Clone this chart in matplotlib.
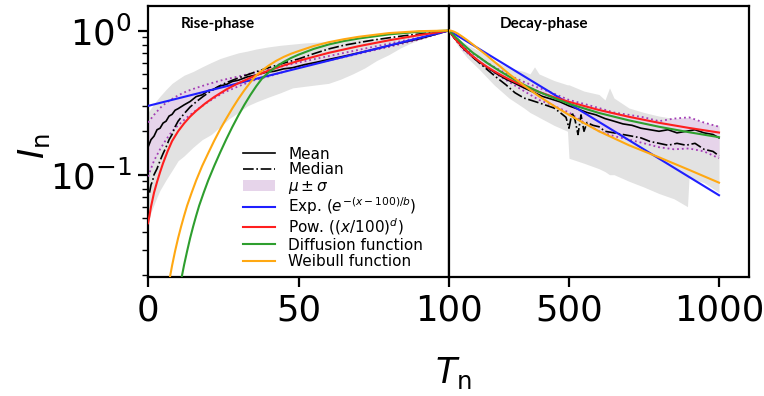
import matplotlib
matplotlib.use('Agg')
import matplotlib.pyplot as plt
import matplotlib.ticker as mticker
from matplotlib.patches import Rectangle
from matplotlib.lines import Line2D

# ---------------- Rise phase (T_n 0..100) ----------------
rise_mean_x = [0, 1, 2, 3, 4, 5, 6, 7, 8, 9, 10, 12, 14, 16, 18, 20, 22, 24, 26, 28, 30,
               33, 36, 39, 42, 45, 48, 52, 56, 60, 65, 70, 75, 80, 85, 90, 95, 100]
rise_mean = [0.155, 0.175, 0.185, 0.205, 0.21, 0.228, 0.235, 0.255, 0.262, 0.28, 0.287, 0.305,
             0.322, 0.348, 0.358, 0.383, 0.392, 0.413, 0.422, 0.443, 0.452, 0.477, 0.492, 0.512,
             0.522, 0.542, 0.552, 0.58, 0.603, 0.63, 0.663, 0.70, 0.74, 0.785, 0.83, 0.875, 0.935, 1.0]

rise_median_x = [0.5, 1, 1.5, 2, 3, 4, 5, 6, 7, 8, 9, 10, 12, 14, 16, 18, 20, 23, 26, 29, 32,
                 35, 38, 41, 44, 47, 50, 55, 60, 65, 70, 75, 80, 85, 90, 95, 100]
rise_median = [0.075, 0.085, 0.09, 0.10, 0.11, 0.125, 0.14, 0.155, 0.175, 0.19, 0.215, 0.235,
               0.265, 0.295, 0.32, 0.345, 0.37, 0.405, 0.435, 0.46, 0.485, 0.51, 0.535, 0.56,
               0.585, 0.61, 0.635, 0.69, 0.745, 0.79, 0.825, 0.86, 0.89, 0.92, 0.945, 0.97, 1.0]

rise_sig_x = [0, 2, 4, 6, 8, 10, 13, 16, 20, 25, 30, 35, 40, 50, 60, 70, 80, 90, 100]
rise_sig_hi = [0.23, 0.26, 0.29, 0.315, 0.335, 0.355, 0.38, 0.40, 0.425, 0.455, 0.48, 0.51,
               0.535, 0.60, 0.665, 0.735, 0.81, 0.895, 1.0]
rise_sig_lo = [0.097, 0.125, 0.15, 0.175, 0.20, 0.22, 0.25, 0.28, 0.32, 0.37, 0.41, 0.45,
               0.48, 0.555, 0.62, 0.69, 0.77, 0.865, 1.0]

rise_rng_x = [0, 1, 2, 3, 4, 6, 8, 10, 12, 15, 18, 21, 24, 27, 30, 33, 36, 40, 44, 48, 52,
              56, 60, 64, 68, 72, 76, 80, 84, 88, 92, 96, 100]
rise_rng_hi = [0.27, 0.29, 0.31, 0.33, 0.35, 0.39, 0.43, 0.46, 0.49, 0.52, 0.56, 0.60, 0.64,
               0.67, 0.70, 0.72, 0.745, 0.77, 0.79, 0.805, 0.82, 0.83, 0.84, 0.85, 0.86, 0.87,
               0.88, 0.89, 0.905, 0.925, 0.95, 0.975, 1.0]
rise_rng_lo = [0.045, 0.055, 0.062, 0.07, 0.078, 0.092, 0.107, 0.125, 0.135, 0.155, 0.175,
               0.19, 0.215, 0.245, 0.27, 0.30, 0.32, 0.345, 0.37, 0.40, 0.41, 0.42, 0.43,
               0.46, 0.50, 0.55, 0.62, 0.68, 0.76, 0.83, 0.89, 0.95, 1.0]

rise_exp_x = [0, 50, 100]
rise_exp = [0.30, 0.548, 1.0]

rise_pow_x = [0, 0.5, 1, 1.5, 2, 3, 4, 5, 6.5, 8, 10, 12, 14, 16, 19, 22, 26, 30, 35, 40,
              45, 50, 60, 70, 80, 90, 100]
rise_pow = [0.046, 0.052, 0.06, 0.067, 0.075, 0.089, 0.104, 0.12, 0.145, 0.171, 0.20, 0.227,
            0.253, 0.277, 0.312, 0.346, 0.39, 0.431, 0.48, 0.527, 0.572, 0.616, 0.70, 0.779,
            0.855, 0.929, 1.0]

rise_dif_x = [10.8, 11.2, 12, 13, 14, 15, 16, 17, 18.5, 20, 22, 24, 26, 28, 30, 32, 34, 36,
              38, 40, 42.5, 45, 47.5, 50, 55, 60, 65, 70, 80, 90, 100]
rise_dif = [0.0170, 0.0195, 0.0237, 0.0295, 0.0363, 0.0437, 0.0519, 0.0610, 0.0750, 0.0912,
            0.115, 0.143, 0.176, 0.214, 0.257, 0.305, 0.357, 0.412, 0.468, 0.51, 0.56,
            0.605, 0.645, 0.68, 0.745, 0.80, 0.845, 0.88, 0.94, 0.98, 1.0]

rise_wei_x = [7.0, 7.3, 8, 9, 10, 11, 12, 13, 14.5, 16, 18, 20, 22, 24, 26, 28, 30, 32, 34,
              36, 38, 40, 42.5, 45, 47.5, 50, 55, 60, 65, 70, 80, 90, 100]
rise_wei = [0.0170, 0.0195, 0.0234, 0.0295, 0.0363, 0.0437, 0.0519, 0.0610, 0.0750, 0.0912,
            0.115, 0.141, 0.172, 0.207, 0.245, 0.288, 0.335, 0.385, 0.437, 0.49, 0.53,
            0.57, 0.615, 0.655, 0.69, 0.72, 0.78, 0.83, 0.87, 0.905, 0.96, 0.99, 1.0]

# ---------------- Decay phase (T_n 100..1000) ----------------
decay_mean_x = [100, 120, 140, 160, 180, 200, 230, 260, 290, 320, 350, 380, 410, 440, 470,
                500, 530, 560, 590, 620, 650, 680, 710, 740, 770, 800, 830, 860, 890, 920,
                950, 980, 1000]
decay_mean = [1.0, 0.88, 0.79, 0.72, 0.66, 0.61, 0.55, 0.50, 0.46, 0.43, 0.40, 0.375, 0.35,
              0.335, 0.32, 0.30, 0.285, 0.27, 0.26, 0.245, 0.235, 0.225, 0.22, 0.21, 0.205,
              0.20, 0.205, 0.195, 0.20, 0.205, 0.195, 0.19, 0.18]

decay_median_x = [100, 120, 140, 160, 180, 200, 230, 260, 290, 320, 350, 370, 390, 410, 430,
                  450, 470, 490, 500, 510, 520, 530, 540, 550, 560, 580, 600, 620, 650, 680,
                  710, 740, 770, 800, 830, 860, 890, 920, 950, 980, 1000]
decay_median = [1.0, 0.87, 0.78, 0.71, 0.65, 0.60, 0.53, 0.47, 0.42, 0.37, 0.34, 0.33, 0.32,
                0.31, 0.30, 0.29, 0.27, 0.25, 0.21, 0.27, 0.24, 0.19, 0.26, 0.20, 0.23, 0.22,
                0.215, 0.20, 0.195, 0.19, 0.185, 0.18, 0.17, 0.165, 0.16, 0.165, 0.16, 0.165,
                0.15, 0.145, 0.135]

decay_sig_x = [100, 150, 200, 250, 300, 350, 400, 450, 500, 550, 600, 650, 700, 750, 800,
               850, 900, 950, 1000]
decay_sig_hi = [1.0, 0.76, 0.65, 0.56, 0.49, 0.44, 0.40, 0.365, 0.33, 0.31, 0.29, 0.27, 0.26,
                0.25, 0.235, 0.245, 0.25, 0.23, 0.215]
decay_sig_lo = [1.0, 0.73, 0.60, 0.51, 0.44, 0.38, 0.33, 0.30, 0.27, 0.23, 0.20, 0.185, 0.175,
                0.165, 0.155, 0.15, 0.152, 0.145, 0.13]

decay_rng_x = [100, 130, 160, 200, 250, 300, 350, 370, 385, 400, 450, 495, 500, 550, 600,
               620, 635, 650, 700, 750, 800, 850, 895, 900, 950, 1000]
decay_rng_hi = [1.0, 0.88, 0.80, 0.72, 0.62, 0.55, 0.52, 0.50, 0.56, 0.50, 0.45, 0.42, 0.42,
                0.38, 0.36, 0.33, 0.40, 0.34, 0.29, 0.27, 0.255, 0.245, 0.235, 0.235, 0.225,
                0.22]
decay_rng_lo = [1.0, 0.78, 0.65, 0.54, 0.42, 0.34, 0.29, 0.27, 0.26, 0.25, 0.22, 0.20, 0.13,
                0.12, 0.11, 0.105, 0.10, 0.10, 0.09, 0.082, 0.074, 0.068, 0.06, 0.095, 0.088,
                0.075]

decay_fit_x = [100, 107, 115, 122, 130, 145, 160, 180, 200, 225, 250, 275, 300, 350, 400,
               450, 500, 600, 700, 800, 900, 1000]
decay_exp_x = [100, 550, 1000]
decay_exp = [1.0, 0.269, 0.072]
decay_pow = [1.0, 0.953, 0.906, 0.869, 0.831, 0.769, 0.717, 0.660, 0.612, 0.563, 0.523, 0.489,
             0.459, 0.412, 0.375, 0.345, 0.320, 0.281, 0.252, 0.229, 0.211, 0.196]
decay_dif = [1.0, 0.965, 0.93, 0.90, 0.87, 0.81, 0.76, 0.70, 0.655, 0.60, 0.555, 0.515, 0.48,
             0.42, 0.375, 0.34, 0.31, 0.268, 0.238, 0.215, 0.197, 0.182]
decay_wei = [1.0, 0.997, 0.985, 0.97, 0.95, 0.905, 0.86, 0.80, 0.74, 0.675, 0.61, 0.553, 0.50,
             0.415, 0.35, 0.30, 0.26, 0.20, 0.16, 0.132, 0.108, 0.088]

legend_labels = ['Mean', 'Median', r'$\mu \pm \sigma$', r'Exp. ($e^{-(x-100)/b}$)',
                 r'Pow. ($(x/100)^{d}$)', 'Diffusion function', 'Weibull function']

# ---------------- styling ----------------
C_GRAY = '#e2e2e2'
C_PFILL = '#e6d4ea'
C_PEDGE = '#a23cb4'
C_BLUE = '#1f1fff'
C_RED = '#ff1f1f'
C_GREEN = '#2e9e2e'
C_ORANGE = '#ffa812'
LW_FIT = 1.5
TICK_FS = 25.5

fig = plt.figure(figsize=(7.64, 3.96), dpi=100)
W, H = 764.0, 396.0
bottom = 1 - 277 / H
height = (277 - 6) / H
axL = fig.add_axes([148 / W, bottom, 301 / W, height])
axL.set_yscale('log')
axR = fig.add_axes([449 / W, bottom, 300 / W, height], sharey=axL)


def draw(ax, rx, rlo, rhi, sx, slo, shi, mx, my, dx, dy):
    ax.fill_between(rx, rlo, rhi, color=C_GRAY, lw=0, zorder=1)
    ax.fill_between(sx, slo, shi, color=C_PFILL, lw=0, zorder=2)
    ax.plot(sx, shi, ls=':', color=C_PEDGE, lw=1.3, zorder=3)
    ax.plot(sx, slo, ls=':', color=C_PEDGE, lw=1.3, zorder=3)
    ax.plot(mx, my, '-', color='black', lw=1.2, zorder=4)
    ax.plot(dx, dy, '-.', color='black', lw=1.2, zorder=4)


draw(axL, rise_rng_x, rise_rng_lo, rise_rng_hi, rise_sig_x, rise_sig_lo, rise_sig_hi,
     rise_mean_x, rise_mean, rise_median_x, rise_median)
axL.plot(rise_exp_x, rise_exp, color=C_BLUE, lw=LW_FIT, zorder=5)
axL.plot(rise_pow_x, rise_pow, color=C_RED, lw=LW_FIT, zorder=5)
axL.plot(rise_dif_x, rise_dif, color=C_GREEN, lw=LW_FIT, zorder=5)
axL.plot(rise_wei_x, rise_wei, color=C_ORANGE, lw=LW_FIT, zorder=5)

draw(axR, decay_rng_x, decay_rng_lo, decay_rng_hi, decay_sig_x, decay_sig_lo, decay_sig_hi,
     decay_mean_x, decay_mean, decay_median_x, decay_median)
axR.plot(decay_exp_x, decay_exp, color=C_BLUE, lw=LW_FIT, zorder=5)
axR.plot(decay_fit_x, decay_pow, color=C_RED, lw=LW_FIT, zorder=5)
axR.plot(decay_fit_x, decay_dif, color=C_GREEN, lw=LW_FIT, zorder=5)
axR.plot(decay_fit_x, decay_wei, color=C_ORANGE, lw=LW_FIT, zorder=5)

axL.set_xlim(0, 100)
axR.set_xlim(100, 1100)
axL.set_ylim(0.0195, 1.48)

axL.set_xticks([0, 50])
axR.set_xticks([100, 500, 1000])
axL.yaxis.set_major_locator(mticker.LogLocator(base=10, numticks=10))
axL.yaxis.set_minor_locator(mticker.LogLocator(base=10, subs=range(2, 10), numticks=20))
axL.yaxis.set_minor_formatter(mticker.NullFormatter())

for ax in (axL, axR):
    for sp in ax.spines.values():
        sp.set_linewidth(1.6)
    ax.tick_params(axis='both', which='major', labelsize=TICK_FS, length=7, width=1.6, pad=5)
    ax.tick_params(axis='both', which='minor', length=4, width=1.0)
axR.tick_params(axis='y', which='both', left=False, labelleft=False)

axL.text(0.11, 0.935, 'Rise-phase', transform=axL.transAxes, fontsize=11,
         fontweight='bold', family='Lato', va='center', ha='left')
axR.text(0.17, 0.935, 'Decay-phase', transform=axR.transAxes, fontsize=11,
         fontweight='bold', family='Lato', va='center', ha='left')

fig.text(453 / W, 1 - 373 / H, r'$T_\mathrm{n}$', fontsize=25, ha='center', va='center')
fig.text(34 / W, 1 - 146 / H, r'$I_\mathrm{n}$', fontsize=25, ha='center', va='center',
         rotation=90)

# legend, drawn row by row (rows with superscripts get a little more room)
leg_styles = [('line', 'black', '-'), ('line', 'black', '-.'), ('patch', C_PFILL, None),
              ('line', C_BLUE, '-'), ('line', C_RED, '-'), ('line', C_GREEN, '-'),
              ('line', C_ORANGE, '-')]
leg_rows = [153, 169, 185, 206.5, 227, 244, 261]
x0, x1, xt = 243 / W, 275 / W, 288 / W
for lab, (kind, col, ls), yc in zip(legend_labels, leg_styles, leg_rows):
    yf = 1 - yc / H
    if kind == 'line':
        lw = 1.2 if col == 'black' else LW_FIT
        fig.add_artist(Line2D([x0, x1], [yf, yf], color=col, lw=lw, ls=ls,
                              transform=fig.transFigure, zorder=10))
    else:
        fig.add_artist(Rectangle((x0, 1 - (yc + 5.5) / H), x1 - x0, 11 / H, facecolor=col,
                                 edgecolor='none', transform=fig.transFigure, zorder=10))
    fig.text(xt, 1 - (yc + 5.5) / H, lab, fontsize=11, va='baseline', ha='left', zorder=11)

fig.savefig('out.png', dpi=100)
